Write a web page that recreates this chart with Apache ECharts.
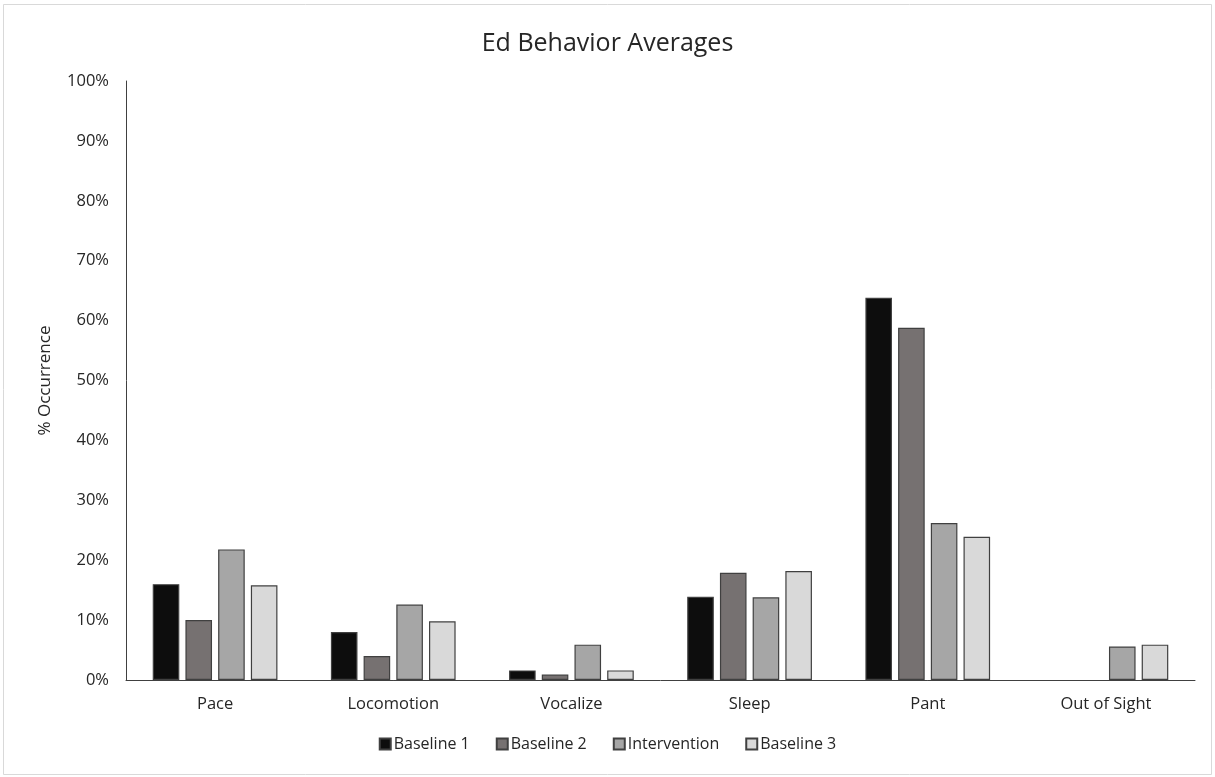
<!DOCTYPE html>
<html>
<head>
<meta charset="utf-8">
<script src="https://cdn.jsdelivr.net/npm/echarts@6/dist/echarts.min.js"></script>
<style>
html,body{margin:0;padding:0;background:#fff;}
#c{width:1215px;height:777px;}
</style>
</head>
<body>
<div id="c"></div>
<script>
const categories = ['Pace', 'Locomotion', 'Vocalize', 'Sleep', 'Pant', 'Out of Sight'];
const seriesNames = ['Baseline 1', 'Baseline 2', 'Intervention', 'Baseline 3'];
const baseline1 = [16.0, 8.0, 1.6, 13.9, 63.8, null];
const baseline2 = [10.0, 4.0, 0.9, 17.9, 58.8, null];
const intervention = [21.8, 12.6, 5.9, 13.8, 26.2, 5.6];
const baseline3 = [15.8, 9.8, 1.6, 18.2, 23.9, 5.9];
const yTicks = [0, 10, 20, 30, 40, 50, 60, 70, 80, 90, 100];

const colors = ['#0d0d0d', '#767171', '#a6a6a6', '#d9d9d9'];
const values = [baseline1, baseline2, intervention, baseline3];
const font = '"Open Sans", "Noto Sans", sans-serif';
const txt = '#262626';

const chart = echarts.init(document.getElementById('c'), null, {renderer: 'canvas'});
chart.setOption({
  backgroundColor: '#fff',
  animation: false,
  textStyle: {fontFamily: font},
  graphic: [{
    type: 'rect', shape: {x: 3.5, y: 4.5, width: 1208, height: 770},
    style: {fill: 'none', stroke: '#d9d9d9', lineWidth: 1}, silent: true, z: -1
  }],
  title: {
    text: 'Ed Behavior Averages', left: 'center', top: 26,
    textStyle: {fontFamily: font, fontSize: 25, fontWeight: 'normal', color: txt}
  },
  legend: {
    data: seriesNames, bottom: 20, left: 'center', itemWidth: 11, itemHeight: 11, itemGap: 26,
    textStyle: {fontFamily: font, fontSize: 16, color: txt, padding: [0, 0, 0, -2]},
    icon: 'rect'
  },
  grid: {left: 126, right: 20, top: 81, bottom: 97, containLabel: false},
  xAxis: {
    type: 'category', data: categories,
    axisLine: {lineStyle: {color: '#404040', width: 1}},
    axisTick: {show: false},
    axisLabel: {fontFamily: font, fontSize: 16.5, color: txt, margin: 16}
  },
  yAxis: {
    type: 'value', min: 0, max: 100, interval: 10,
    name: '% Occurrence', nameLocation: 'middle', nameGap: 72, nameRotate: 90,
    nameTextStyle: {fontFamily: font, fontSize: 17, color: txt},
    axisLine: {show: true, lineStyle: {color: '#404040', width: 1}},
    axisTick: {show: false},
    splitLine: {show: false},
    axisLabel: {fontFamily: font, fontSize: 16.5, color: txt, margin: 17,
      formatter: v => yTicks.includes(v) ? v + '%' : ''}
  },
  series: seriesNames.map((n, i) => ({
    name: n, type: 'bar', data: values[i],
    barGap: '23%', barCategoryGap: '30%',
    itemStyle: {color: colors[i], borderColor: '#404040', borderWidth: 1.2}
  }))
});
</script>
</body>
</html>
